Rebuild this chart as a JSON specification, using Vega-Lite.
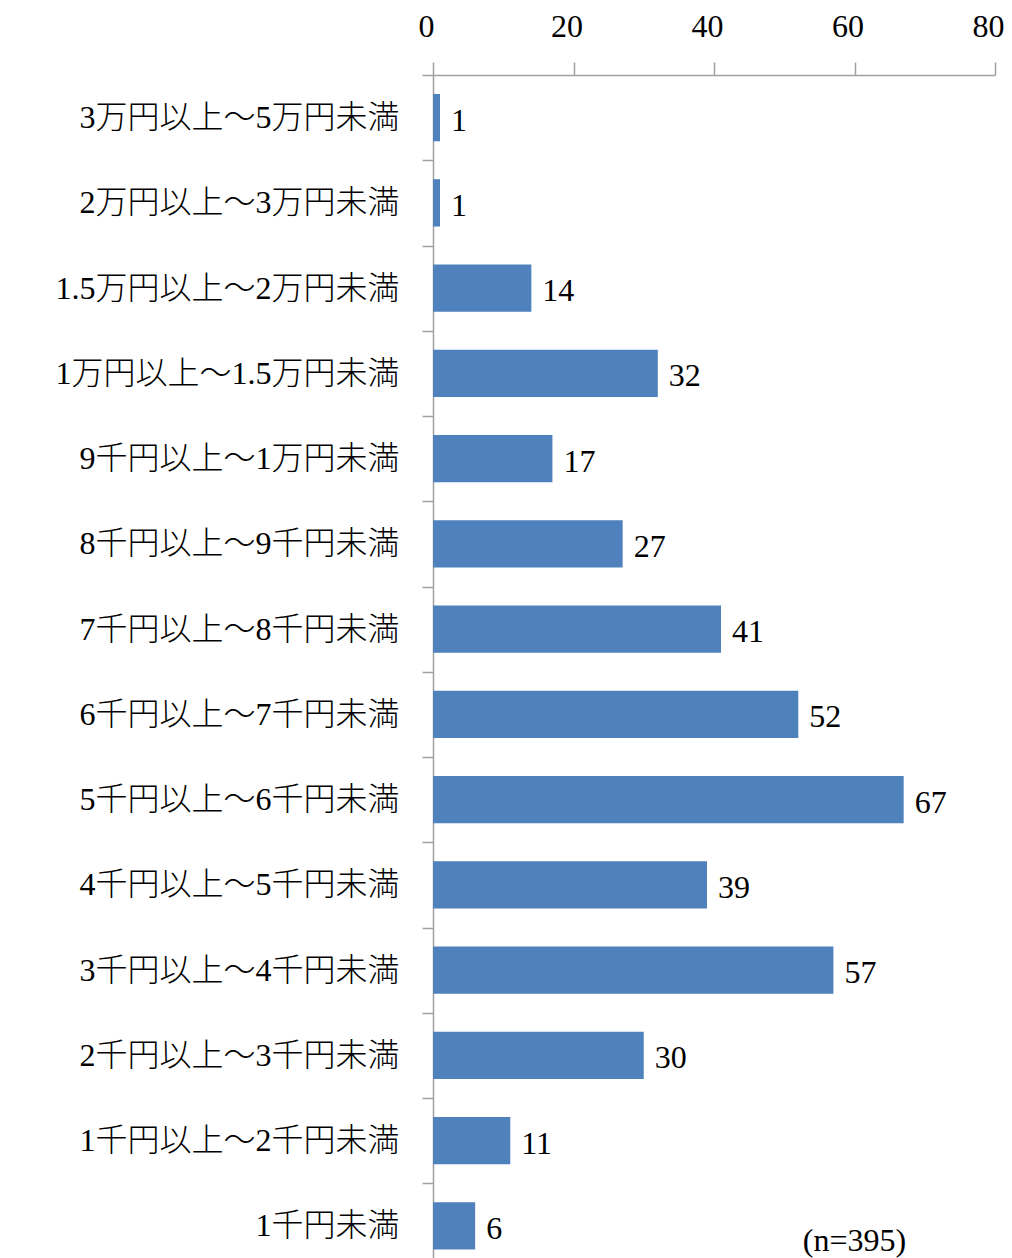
{
  "$schema": "https://vega.github.io/schema/vega-lite/v6.json",
  "width": 562,
  "height": 1183,
  "autosize": {"type": "none"},
  "padding": {"left": 433, "top": 75, "right": 17, "bottom": 0},
  "background": "white",
  "config": {"view": {"stroke": null}, "font": "Liberation Serif"},
  "data": {
    "values": [
      {"category": "3万円以上～5万円未満", "value": 1},
      {"category": "2万円以上～3万円未満", "value": 1},
      {"category": "1.5万円以上～2万円未満", "value": 14},
      {"category": "1万円以上～1.5万円未満", "value": 32},
      {"category": "9千円以上～1万円未満", "value": 17},
      {"category": "8千円以上～9千円未満", "value": 27},
      {"category": "7千円以上～8千円未満", "value": 41},
      {"category": "6千円以上～7千円未満", "value": 52},
      {"category": "5千円以上～6千円未満", "value": 67},
      {"category": "4千円以上～5千円未満", "value": 39},
      {"category": "3千円以上～4千円未満", "value": 57},
      {"category": "2千円以上～3千円未満", "value": 30},
      {"category": "1千円以上～2千円未満", "value": 11},
      {"category": "1千円未満", "value": 6}
    ]
  },
  "layer": [
    {
      "mark": {"type": "bar", "color": "#4f81bd", "height": {"band": 0.555}},
      "encoding": {
        "y": {
          "field": "category",
          "type": "nominal",
          "sort": null,
          "scale": {
            "domain": ["3万円以上～5万円未満", "2万円以上～3万円未満", "1.5万円以上～2万円未満", "1万円以上～1.5万円未満", "9千円以上～1万円未満", "8千円以上～9千円未満", "7千円以上～8千円未満", "6千円以上～7千円未満", "5千円以上～6千円未満", "4千円以上～5千円未満", "3千円以上～4千円未満", "2千円以上～3千円未満", "1千円以上～2千円未満", "1千円未満"],
            "range": [0, 1193.5],
            "paddingInner": 0,
            "paddingOuter": 0
          },
          "axis": {
            "title": null,
            "orient": "left",
            "tickBand": "extent",
            "tickSize": 11,
            "labelPadding": 23,
            "labelFontSize": 32,
            "labelFontWeight": 300,
            "labelFont": "Liberation Serif, Noto Sans CJK JP",
            "labelColor": "black",
            "labelLimit": 600,
            "domainColor": "#a0a0a0",
            "tickColor": "#a0a0a0",
            "domainWidth": 1.5,
            "tickWidth": 1.5
          }
        },
        "x": {
          "field": "value",
          "type": "quantitative",
          "scale": {"domain": [0, 80], "nice": false},
          "axis": {
            "title": null,
            "orient": "top",
            "values": [0, 20, 40, 60, 80],
            "grid": false,
            "tickSize": 13,
            "labelPadding": 19,
            "labelFontSize": 32,
            "labelFont": "Liberation Serif",
            "labelColor": "black",
            "labelOffset": -7,
            "labelFlush": false,
            "labelOverlap": false,
            "domainColor": "#a0a0a0",
            "tickColor": "#a0a0a0",
            "domainWidth": 1.5,
            "tickWidth": 1.5
          }
        }
      }
    },
    {
      "mark": {"type": "text", "align": "left", "baseline": "middle", "dx": 11, "dy": 3, "fontSize": 32, "font": "Liberation Serif", "color": "black"},
      "encoding": {
        "y": {"field": "category", "type": "nominal", "sort": null},
        "x": {"field": "value", "type": "quantitative"},
        "text": {"field": "value", "type": "quantitative"}
      }
    },
    {
      "data": {"values": [{"note": "(n=395)"}]},
      "mark": {"type": "text", "align": "center", "baseline": "middle", "dy": 15, "fontSize": 32, "font": "Liberation Serif", "color": "black"},
      "encoding": {
        "x": {"datum": 60},
        "y": {"datum": "1千円未満"},
        "text": {"field": "note"}
      }
    }
  ]
}
